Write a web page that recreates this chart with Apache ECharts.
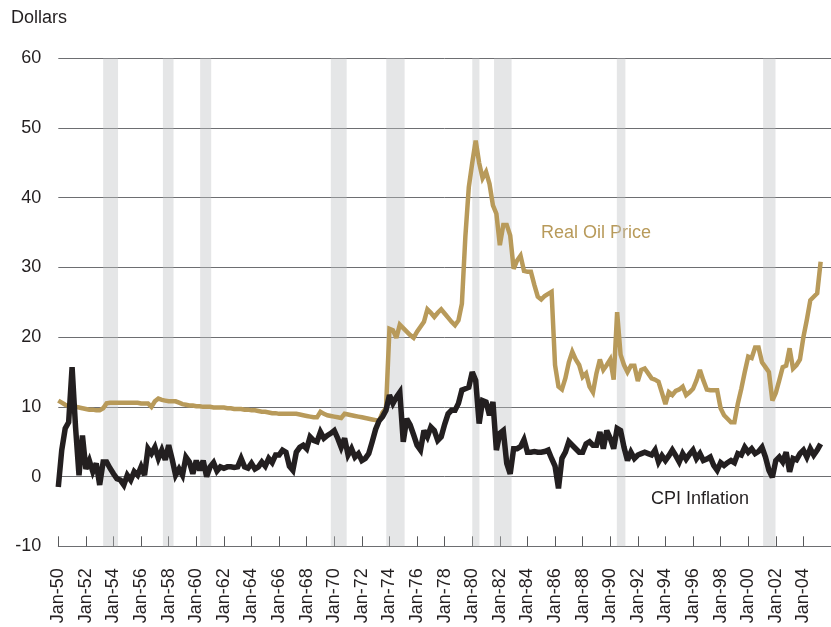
<!DOCTYPE html>
<html lang="en">
<head>
    <meta charset="UTF-8">
    <title>Real Oil Price and CPI Inflation</title>
    <script src="https://cdn.jsdelivr.net/npm/echarts@6/dist/echarts.min.js"></script>
    <style>
        html, body { margin: 0; padding: 0; background: #fff; }
    </style>
</head>
<body>
    <div id="main" style="width: 831px;height:627px;"></div>
    <script type="text/javascript">
        // quarterly data, first point = Jan 1950
        const startYear = 1950;

        // real oil price, dollars
        const oilPrice = [
            10.9, 10.6, 10.3, 10.1,   // 1950
            10.0, 10.0, 9.9, 9.8,
            9.7, 9.6, 9.6, 9.5,
            9.5, 9.8, 10.5, 10.6,
            10.6, 10.6, 10.6, 10.6,
            10.6, 10.6, 10.6, 10.6,   // 1955
            10.5, 10.5, 10.5, 10.0,
            10.8, 11.2, 11.0, 10.9,
            10.8, 10.8, 10.8, 10.6,
            10.4, 10.3, 10.2, 10.2,
            10.1, 10.1, 10.0, 10.0,   // 1960
            10.0, 9.9, 9.9, 9.9,
            9.9, 9.8, 9.8, 9.7,
            9.7, 9.7, 9.6, 9.6,
            9.5, 9.5, 9.4, 9.3,
            9.3, 9.2, 9.1, 9.1,       // 1965
            9.0, 9.0, 9.0, 9.0,
            9.0, 9.0, 8.9, 8.8,
            8.7, 8.6, 8.5, 8.5,
            9.3, 9.0, 8.8, 8.7,
            8.6, 8.5, 8.4, 9.0,       // 1970
            8.9, 8.8, 8.7, 8.6,
            8.5, 8.4, 8.3, 8.2,
            8.1, 8.0, 9.2, 9.8,
            21.2, 21.0, 19.9, 21.8,
            21.3, 20.8, 20.3, 19.9,   // 1975
            20.8, 21.5, 22.2, 24.0,
            23.5, 22.9, 23.5, 24.0,
            23.4, 22.8, 22.2, 21.7,
            22.4, 24.8, 34.4, 41.5,
            45.0, 48.2, 45.0, 42.8,   // 1980
            43.7, 42.0, 38.9, 37.7,
            33.2, 36.1, 36.1, 34.6,
            29.8, 31.0, 31.7, 29.5,
            29.4, 29.4, 27.5, 25.8,
            25.4, 25.9, 26.2, 26.5,   // 1985
            16.0, 12.9, 12.5, 14.1,
            16.4, 17.9, 16.8, 16.0,
            14.3, 14.8, 12.9, 12.1,
            14.8, 16.8, 15.3, 16.0,
            16.8, 13.9, 23.6, 17.5,   // 1990
            16.0, 15.0, 15.9, 15.9,
            13.7, 15.3, 15.5, 14.8,
            14.1, 13.9, 13.6, 12.0,
            10.4, 12.1, 11.7, 12.3,
            12.5, 12.9, 11.7, 12.1,   // 1995
            12.6, 13.8, 15.3, 13.8,
            12.5, 12.4, 12.4, 12.4,
            9.8, 8.8, 8.3, 7.8,
            7.8, 10.5, 12.6, 15.0,
            17.2, 17.0, 18.5, 18.5,   // 2000
            16.4, 15.7, 15.0, 10.9,
            12.0, 13.8, 15.7, 15.9,
            18.4, 15.5, 16.0, 16.8,
            20.0, 22.5, 25.3, 25.8,
            26.3, 30.8                // 2005
        ];

        // CPI inflation, percent
        const cpiInflation = [
            -1.5, 3.8, 6.9, 7.8,      // 1950
            15.7, 7.1, 0.2, 5.9,
            1.1, 2.3, 0.7, 1.9,
            -1.2, 2.1, 2.1, 1.2,
            0.4, -0.3, -0.5, -1.2,
            0.2, -0.5, 0.7, 0.2,      // 1955
            1.4, 0.2, 4.0, 3.3,
            4.2, 2.6, 3.8, 2.4,
            4.5, 2.5, 0.2, 1.1,
            0.2, 2.8, 2.1, 0.4,
            2.3, 0.9, 2.3, 0.0,       // 1960
            1.4, 2.0, 0.8, 1.4,
            1.2, 1.4, 1.4, 1.3,
            1.4, 2.6, 1.4, 1.2,
            1.9, 1.1, 1.4, 2.1,
            1.5, 2.6, 2.0, 3.1,       // 1965
            3.1, 3.8, 3.5, 1.5,
            0.9, 3.5, 4.2, 4.5,
            4.0, 5.7, 5.2, 5.0,
            6.4, 5.5, 5.9, 6.2,
            6.6, 5.5, 4.2, 5.5,       // 1970
            3.1, 4.0, 2.8, 3.3,
            2.3, 2.6, 3.3, 5.0,
            6.8, 8.0, 8.6, 9.5,
            11.7, 10.5, 11.4, 12.1,
            5.0, 8.3, 7.4, 6.0,       // 1975
            4.5, 3.8, 6.6, 5.7,
            7.1, 6.6, 5.2, 5.7,
            7.5, 9.0, 9.5, 9.5,
            10.5, 12.4, 12.6, 12.8,
            15.0, 13.8, 7.6, 10.9,    // 1980
            10.7, 8.8, 10.7, 3.8,
            6.2, 6.6, 1.9, 0.4,
            4.0, 4.0, 4.3, 5.3,
            3.5, 3.5, 3.6, 3.5,
            3.5, 3.6, 3.8, 2.6,       // 1985
            1.5, -1.7, 2.6, 3.5,
            5.0, 4.5, 4.0, 3.5,
            3.5, 4.7, 5.0, 4.5,
            4.5, 6.4, 4.0, 6.6,
            5.5, 4.0, 6.9, 6.6,       // 1990
            4.2, 2.3, 3.5, 2.6,
            3.1, 3.3, 3.5, 3.3,
            3.1, 3.8, 2.1, 3.0,
            2.3, 3.0, 3.8, 3.0,
            2.1, 3.3, 2.5, 3.2,       // 1995
            3.8, 2.6, 3.3, 2.3,
            2.5, 2.8, 1.6, 0.9,
            2.0, 1.6, 2.0, 2.3,
            2.0, 3.3, 3.1, 4.2,
            3.5, 4.0, 3.3, 3.6,       // 2000
            4.2, 2.8, 0.9, -0.1,
            2.3, 2.8, 2.1, 3.5,
            0.7, 2.6, 2.4, 3.3,
            3.8, 2.8, 4.0, 3.1,
            3.8, 4.7                  // 2005
        ];

        const xTickLabels = [
            'Jan-50', 'Jan-52', 'Jan-54', 'Jan-56', 'Jan-58', 'Jan-60', 'Jan-62',
            'Jan-64', 'Jan-66', 'Jan-68', 'Jan-70', 'Jan-72', 'Jan-74', 'Jan-76',
            'Jan-78', 'Jan-80', 'Jan-82', 'Jan-84', 'Jan-86', 'Jan-88', 'Jan-90',
            'Jan-92', 'Jan-94', 'Jan-96', 'Jan-98', 'Jan-00', 'Jan-02', 'Jan-04'
        ];

        // recession periods (grey bands), in years
        const recessions = [
            [1953.25, 1954.33],
            [1957.58, 1958.35],
            [1960.28, 1961.08],
            [1969.75, 1970.9],
            [1973.77, 1975.1],
            [1980.0, 1980.52],
            [1981.58, 1982.85],
            [1990.48, 1991.1],
            [2001.08, 2001.98]
        ];

        const fontFamily = '"Liberation Sans", Arial, sans-serif';
        const textColor = '#231f20';
        const oilColor = '#b89a5a';

        const toPoints = arr => arr.map((v, i) => [startYear + i / 4, v]);

        const myChart = echarts.init(document.getElementById('main'), null, { renderer: 'canvas' });

        const option = {
            animation: false,
            backgroundColor: '#ffffff',
            grid: {
                left: 58.3,
                top: 58.3,
                width: 782.9,
                height: 488
            },
            xAxis: {
                type: 'value',
                min: 1950,
                max: 2006,
                interval: 2,
                axisLine: { show: true, onZero: false, lineStyle: { color: '#6d6e71', width: 1 } },
                axisTick: { show: true, inside: true, length: 10, lineStyle: { color: '#58595b', width: 1 } },
                splitLine: { show: false },
                axisLabel: {
                    rotate: 90,
                    margin: 22,
                    fontSize: 18,
                    fontFamily: fontFamily,
                    color: textColor,
                    formatter: v => xTickLabels[Math.round((v - startYear) / 2)] || ''
                }
            },
            yAxis: {
                type: 'value',
                min: -10,
                max: 60,
                interval: 10,
                axisLine: { show: false },
                axisTick: { show: false },
                splitLine: { show: true, lineStyle: { color: '#6d6e71', width: 1 } },
                axisLabel: {
                    margin: 17,
                    fontSize: 18,
                    fontFamily: fontFamily,
                    color: textColor
                }
            },
            series: [
                {
                    name: 'Real Oil Price',
                    type: 'line',
                    data: toPoints(oilPrice),
                    showSymbol: false,
                    symbol: 'none',
                    lineStyle: { color: oilColor, width: 4.5, join: 'miter', miterLimit: 3 },
                    markArea: {
                        silent: true,
                        itemStyle: { color: 'rgba(190,192,196,0.4)' },
                        data: recessions.map(r => [{ xAxis: r[0] }, { xAxis: r[1] }])
                    }
                },
                {
                    name: 'CPI Inflation',
                    type: 'line',
                    data: toPoints(cpiInflation),
                    showSymbol: false,
                    symbol: 'none',
                    lineStyle: { color: textColor, width: 5.5, join: 'miter', miterLimit: 3 }
                }
            ],
            graphic: [
                {
                    type: 'text',
                    x: 11,
                    y: 18,
                    style: { text: 'Dollars', fill: textColor, font: '18px ' + fontFamily, verticalAlign: 'middle' }
                },
                {
                    type: 'text',
                    x: 541,
                    y: 233,
                    style: { text: 'Real Oil Price', fill: oilColor, font: '18px ' + fontFamily, verticalAlign: 'middle' }
                },
                {
                    type: 'text',
                    x: 651,
                    y: 499,
                    style: { text: 'CPI Inflation', fill: textColor, font: '18px ' + fontFamily, verticalAlign: 'middle' }
                }
            ]
        };

        myChart.setOption(option);
    </script>
</body>
</html>
